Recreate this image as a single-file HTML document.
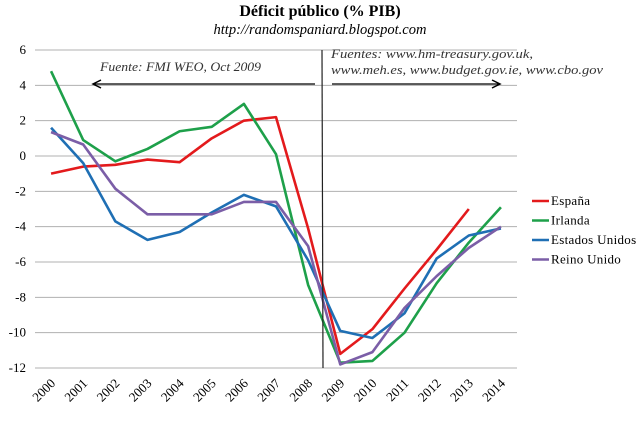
<!DOCTYPE html>
<html><head><meta charset="utf-8"><style>
body{margin:0;background:#fff;width:640px;height:416px;overflow:hidden}
svg{font-family:"Liberation Serif",serif}
</style></head><body>
<svg width="640" height="416" id="c">
<text x="320" y="16" text-anchor="middle" font-size="16" font-weight="bold">Déficit público (% PIB)</text>
<text x="320" y="34" text-anchor="middle" font-size="14.5" font-style="italic">http://randomspaniard.blogspot.com</text>
<g id="grid"></g><g id="series"></g>
<line x1="322" y1="50" x2="323" y2="368" stroke="#222" stroke-width="1.2"/>
<text x="100" y="71" font-size="12.5" font-style="italic" fill="#333" textLength="161" lengthAdjust="spacingAndGlyphs">Fuente: FMI WEO, Oct 2009</text>
<line x1="315" y1="84" x2="94" y2="84" stroke="#000" stroke-width="1.3"/>
<path d="M101,80 L93,84 L101,88" fill="none" stroke="#000" stroke-width="1.5"/>
<text x="331" y="58" font-size="12.5" font-style="italic" fill="#333" textLength="202" lengthAdjust="spacingAndGlyphs">Fuentes: www.hm-treasury.gov.uk,</text>
<text x="331" y="74" font-size="12.5" font-style="italic" fill="#333" textLength="272" lengthAdjust="spacingAndGlyphs">www.meh.es, www.budget.gov.ie, www.cbo.gov</text>
<line x1="332" y1="84" x2="499" y2="84" stroke="#000" stroke-width="1.3"/>
<path d="M492,80 L500,84 L492,88" fill="none" stroke="#000" stroke-width="1.5"/>
<g id="legend"></g>
</svg>
<script>
const years=["2000","2001","2002","2003","2004","2005","2006","2007","2008","2009","2010","2011","2012","2013","2014"];
const yTicks=[6,4,2,0,-2,-4,-6,-8,-10,-12];
const espana=[-1.0,-0.6,-0.5,-0.2,-0.35,1.0,2.0,2.2,-4.1,-11.2,-9.8,-7.5,-5.3,-3.0];
const irlanda=[4.8,0.9,-0.3,0.4,1.4,1.65,2.95,0.1,-7.3,-11.7,-11.6,-10.0,-7.2,-4.9,-2.9];
const eeuu=[1.6,-0.4,-3.7,-4.75,-4.3,-3.2,-2.2,-2.85,-5.9,-9.9,-10.3,-8.9,-5.8,-4.5,-4.1];
const reinoUnido=[1.35,0.65,-1.85,-3.3,-3.3,-3.3,-2.6,-2.6,-5.1,-11.8,-11.1,-8.6,-6.8,-5.2,-4.0];
const seriesNames=["España","Irlanda","Estados Unidos","Reino Unido"];
const NS="http://www.w3.org/2000/svg";
const X0=35,X1=517,Y0=50,Y1=368,YMAX=6,YMIN=-12;
const step=(X1-X0)/years.length;
const xs=i=>X0+step*(i+0.5);
const ys=v=>Y0+(YMAX-v)/(YMAX-YMIN)*(Y1-Y0);
function mk(t,a,p){const e=document.createElementNS(NS,t);for(const k in a)e.setAttribute(k,a[k]);p.appendChild(e);return e;}
const grid=document.getElementById('grid');
yTicks.forEach(v=>{
 const l=mk('line',{x1:X0,x2:X1,y1:ys(v),y2:ys(v),stroke:'#b0b0b0','stroke-width':1},grid);
 
 
 const t=mk('text',{x:26,y:ys(v)+4,'text-anchor':'end','font-size':13},grid);
 t.textContent=v;
 
 
});
years.forEach((y,i)=>{
 const x=xs(i)+5,yy=384;
 const t=mk('text',{x:x,y:yy,'text-anchor':'end','font-size':13,transform:`rotate(-45 ${x} ${yy})`},grid);
 t.textContent=y;
 
 
});
const colors=["#e31a1c","#1ea04a","#1f6fb4","#7b5ea7"];
const data=[espana,irlanda,eeuu,reinoUnido];
const sg=document.getElementById('series'),lg=document.getElementById('legend');
data.forEach((d,k)=>{
 const p=mk('polyline',{points:d.map((v,i)=>xs(i)+','+ys(v)).join(' '),fill:'none',stroke:colors[k],'stroke-width':2.6,'stroke-linejoin':'round'},sg);
 
 
 const yy=201+k*19.5;
 const l=mk('line',{x1:532,x2:549,y1:yy,y2:yy,stroke:colors[k],'stroke-width':2.6},lg);
 
 
 const t=mk('text',{x:551,y:yy+4,'font-size':13,'letter-spacing':0.3},lg);
 t.textContent=seriesNames[k];
 
 
});
</script>
</body></html>
